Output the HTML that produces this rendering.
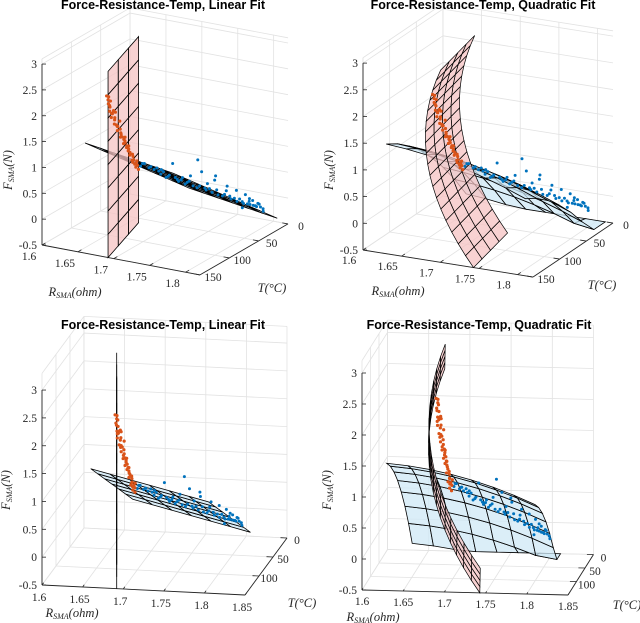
<!DOCTYPE html>
<html><head><meta charset="utf-8">
<style>
html,body{margin:0;padding:0;background:#fff;}
svg{display:block;}
.t{font-family:"Liberation Sans",sans-serif;font-weight:bold;font-size:12.5px;fill:#000;}
.tk{font-family:"Liberation Serif",serif;font-size:11.5px;fill:#262626;}
.al{font-family:"Liberation Serif",serif;font-style:italic;font-size:12.5px;fill:#262626;}
</style></head>
<body>
<svg id="chart" width="640" height="623" viewBox="0 0 640 623" xmlns="http://www.w3.org/2000/svg"></svg>
<script>
// ---- data (shared across all four views) ----
const redR=[1.698,1.700,1.697,1.699,1.696,1.698,1.695,1.697,1.694,1.696,1.693,1.695,1.692,1.694,1.691,1.693,1.690,1.692,1.691,1.693,1.692,1.690,1.694,1.697,1.699,1.701,1.696,1.693,
 1.700,1.702,1.699,1.697,1.695,1.693,1.691,1.689,1.690,1.692,1.694,1.696,1.698,1.700,1.696,1.694,1.692,1.690,1.695,1.697,1.699,1.693];
const redT=[110,112,114,116,118,120,122,124,126,128,130,132,134,136,138,140,142,144,146,148,150,147,141,127,115,111,131,137,
 108,113,117,121,125,129,133,139,145,149,143,135,123,119,126,140,146,150,133,121,113,142];
const redF=[1.00,1.10,1.12,1.25,1.28,1.35,1.45,1.50,1.55,1.65,1.70,1.80,1.85,1.95,2.00,2.10,2.15,2.25,2.30,2.40,2.55,2.45,2.15,1.58,1.18,1.05,1.72,1.98,
 0.95,1.15,1.30,1.42,1.60,1.75,1.92,2.20,2.40,2.60,2.30,2.05,1.40,1.20,1.68,2.25,2.50,2.62,1.88,1.48,1.08,2.28];
const blueR=[1.700,1.703,1.705,1.708,1.711,1.712,1.715,1.718,1.720,1.722,1.725,1.728,1.730,1.733,1.735,1.738,1.740,1.743,1.745,1.748,1.750,1.752,1.755,1.758,1.760,1.762,1.765,1.768,1.770,1.772,1.775,1.778,1.780,1.782,1.785,1.788,1.790,1.792,1.795,1.798,1.800,1.792,1.796,1.788,1.801,1.785,1.745,
 1.704,1.710,1.716,1.724,1.732,1.742,1.754,1.764,1.774,1.784,1.790,1.794,1.797,1.786,1.770,1.756,1.736,1.718,1.760,1.780];
const blueT=[112,108,104,100,101,96,95,92,90,88,86,84,82,80,78,75,74,72,70,67,65,64,60,58,56,54,52,48,47,45,42,40,38,36,33,30,28,26,23,20,18,25,22,27,19,35,62,
 106,99,93,87,81,73,61,53,43,34,29,24,21,31,44,59,77,91,50,39];
const blueF=[1.10,1.02,1.05,0.95,0.98,0.90,0.93,0.80,0.84,0.72,0.76,0.98,0.70,0.62,0.64,0.55,0.58,0.70,0.50,0.45,0.48,0.75,0.38,0.40,0.32,0.55,0.26,0.22,0.25,0.40,0.14,0.15,0.08,0.12,0.02,0.00,-0.02,0.05,-0.08,-0.10,-0.14,-0.05,-0.02,0.03,-0.18,-0.05,0.95,
 1.06,0.97,0.86,0.74,0.66,0.60,0.42,0.36,0.20,0.06,0.10,-0.06,-0.04,0.18,0.30,0.50,0.68,0.88,0.60,0.30];
// fit coefficients
const linBlueCoef=[0.06,-3.38,0.01047];        // F = c0 + c1(R-1.66) + c2 T
const linRedCoef=[1.692,-0.000345];             // R = c0 + c1(150-T)
const quadRedCoef=[1.685,-0.01415,0.01173,-0.0002]; // R = c0 + c1(F-1.2)+c2(F-1.2)^2 + c3(150-T)
const quadBlueCoef=[0.12,-3.38,0.01047,-14,-0.00005]; // + c3(R-1.72)^2 + c4(T-100)^2
const fTicks=[-0.5,0,0.5,1,1.5,2,2.5,3];
const fTickLabels=["-0.5","0","0.5","1","1.5","2","2.5","3"];
const rTicksA=[1.6,1.65,1.7,1.75,1.8];
const rTicksB=[1.6,1.65,1.7,1.75,1.8,1.85];
const tTicksA=[0,50,100,150];
const tTicksB=[0,50,100];

const panels=[
 {id:'tl',title:'Force-Resistance-Temp, Linear Fit',tx:163,ty:9,p0:[42,245],vR:[718,136],vT:[0.587,-0.34],vF:[0,-51.7],Rmax:1.82,Fmax:3.1,rt:rTicksA,tt:tTicksA,ro:[-13,15],to:[13,6],fl:[12,170],rl:[75,296],tl:[272,292],fit:'lin'},
 {id:'tr',title:'Force-Resistance-Temp, Quadratic Fit',tx:483,ty:9,p0:[363,250],vR:[773,123],vT:[0.533,-0.36],vF:[0,-53.4],Rmax:1.82,Fmax:3.1,rt:rTicksA,tt:tTicksA,ro:[-14,14],to:[13,6],fl:[333,170],rl:[398,295],tl:[602,289],fit:'quad'},
 {id:'bl',title:'Force-Resistance-Temp, Linear Fit',tx:163,ty:329,p0:[42,585],vR:[812,40],vT:[0.28,-0.38],vF:[0,-55.7],Rmax:1.85,Fmax:3.3,rt:rTicksB,tt:tTicksB,ro:[-3,16],to:[10,6],fl:[10,490],rl:[72,617],tl:[302,607],fit:'lin'},
 {id:'br',title:'Force-Resistance-Temp, Quadratic Fit',tx:479,ty:329,p0:[362,590],vR:[824,20],vT:[0.17,-0.27],vF:[0,-62],Rmax:1.85,Fmax:3.2,rt:rTicksB,tt:tTicksB,ro:[0,15],to:[10,7],fl:[331,490],rl:[373,621],tl:[627,609],fit:'quad'}
];
const NS='http://www.w3.org/2000/svg';
const svg=document.getElementById('chart');
function mk(tag,attrs,parent){const e=document.createElementNS(NS,tag);for(const k in attrs)e.setAttribute(k,attrs[k]);(parent||svg).appendChild(e);return e;}
const TMAX=150;
panels.forEach(p=>{
  const P=(R,T,F)=>[p.p0[0]+p.vR[0]*(R-1.6)+p.vT[0]*(TMAX-T)+p.vF[0]*(F+0.5),
                    p.p0[1]+p.vR[1]*(R-1.6)+p.vT[1]*(TMAX-T)+p.vF[1]*(F+0.5)];
  const g=mk('g',{});
  
  
  const line=(a,b,st,w,par)=>mk('line',{x1:a[0],y1:a[1],x2:b[0],y2:b[1],stroke:st,'stroke-width':w},par||g);
  const gg=mk('g',{},g);
  
  
  const gc='#e2e2e2';
  p.rt.forEach(r=>{line(P(r,0,-0.5),P(r,0,p.Fmax),gc,0.8,gg);line(P(r,0,-0.5),P(r,TMAX,-0.5),gc,0.8,gg);});
  p.tt.concat([TMAX]).forEach(t=>{line(P(1.6,t,-0.5),P(1.6,t,p.Fmax),gc,0.8,gg);line(P(1.6,t,-0.5),P(p.Rmax,t,-0.5),gc,0.8,gg);});
  fTicks.concat([p.Fmax]).forEach(f=>{line(P(1.6,0,f),P(p.Rmax,0,f),gc,0.8,gg);line(P(1.6,0,f),P(1.6,TMAX,f),gc,0.8,gg);});
  const ax='#262626';
  const fa=mk('g',{},g);
  line(P(1.6,TMAX,-0.5),P(1.6,TMAX,3),ax,0.9,fa);
  fTicks.forEach((f,i)=>{const q=P(1.6,TMAX,f);line(q,[q[0]+4,q[1]],ax,0.8,fa);
    const t=mk('text',{x:q[0]-5,y:q[1]+4,'text-anchor':'end',class:'tk'},fa);t.textContent=fTickLabels[i];});
  const ra=mk('g',{},g);
  line(P(1.6,TMAX,-0.5),P(p.Rmax,TMAX,-0.5),ax,0.9,ra);
  p.rt.forEach(r=>{const q=P(r,TMAX,-0.5);const q2=P(r,TMAX-6,-0.5);line(q,q2,ax,0.8,ra);
    const t=mk('text',{x:q[0]+p.ro[0],y:q[1]+p.ro[1],'text-anchor':'middle',class:'tk'},ra);t.textContent=String(r);});
  const ta=mk('g',{},g);
  line(P(p.Rmax,TMAX,-0.5),P(p.Rmax,0,-0.5),ax,0.9,ta);
  p.tt.forEach(tv=>{const q=P(p.Rmax,tv,-0.5);const q2=P(p.Rmax-0.008,tv,-0.5);line(q,q2,ax,0.8,ta);
    const t=mk('text',{x:q[0]+p.to[0],y:q[1]+p.to[1],'text-anchor':'middle',class:'tk'},ta);t.textContent=String(tv);});
  const fl=mk('text',{x:p.fl[0],y:p.fl[1],class:'al','text-anchor':'middle',transform:`rotate(-90 ${p.fl[0]} ${p.fl[1]})`},g);
  
  fl.innerHTML='F<tspan font-size="8" dy="2">SMA</tspan><tspan dy="-2">(N)</tspan>';
  const rl=mk('text',{x:p.rl[0],y:p.rl[1],class:'al','text-anchor':'middle'},g);
  
  rl.innerHTML='R<tspan font-size="8" dy="2">SMA</tspan><tspan dy="-2">(ohm)</tspan>';
  const tl=mk('text',{x:p.tl[0],y:p.tl[1],class:'al','text-anchor':'middle'},g);
  
  tl.textContent='T(°C)';
  const ti=mk('text',{x:p.tx,y:p.ty,class:'t','text-anchor':'middle'},g);
  
  ti.textContent=p.title;
  function surf(fn,u0,u1,v0,v1,nu,nv,fill,name,sw){
    const sg=mk('g',{},g);
    
    
    for(let i=0;i<nu;i++)for(let j=0;j<nv;j++){
      const a=u0+(u1-u0)*i/nu,b=u0+(u1-u0)*(i+1)/nu,c=v0+(v1-v0)*j/nv,d=v0+(v1-v0)*(j+1)/nv;
      const pts=[fn(a,c),fn(b,c),fn(b,d),fn(a,d)].map(q=>q.join(',')).join(' ');
      mk('polygon',{points:pts,fill:fill,'fill-opacity':0.75,stroke:'#000','stroke-width':sw},sg);
    }
  }
  const clampF=f=>Math.max(-0.5,Math.min(p.Fmax+0.1,f));
  if(p.fit==='lin'){
    const c=linBlueCoef;
    surf((R,T)=>P(R,T,c[0]+c[1]*(R-1.66)+c[2]*T),1.66,1.805,0,150,6,6,'#cfe8f5','blue-linear-fit',0.8);
    const k=linRedCoef;
    surf((F,T)=>P(k[0]+k[1]*(150-T),T,F),-0.5,3.1,60,150,8,3,'#f6c3c3','red-linear-fit',0.8);
  } else {
    const c=quadBlueCoef;
    surf((R,T)=>P(R,T,clampF(c[0]+c[1]*(R-1.66)+c[2]*T+c[3]*(R-1.72)**2+c[4]*(T-100)**2)),1.63,1.81,0,150,7,7,'#cfe8f5','blue-quadratic-fit',0.8);
    const k=quadRedCoef;
    surf((F,T)=>P(k[0]+k[1]*(F-1.2)+k[2]*(F-1.2)**2+k[3]*(150-T),T,F),-0.5,3.1,60,150,18,4,'#f6c3c3','red-quadratic-fit',0.7);
  }
  const sb=mk('g',{},g);
  blueR.forEach((r,i)=>{const q=P(r,blueT[i],blueF[i]);mk('circle',{cx:q[0],cy:q[1],r:1.5,fill:'#0072bd'},sb);});
  const sr=mk('g',{},g);
  redR.forEach((r,i)=>{const q=P(r,redT[i],redF[i]);mk('circle',{cx:q[0],cy:q[1],r:1.6,fill:'#d95319'},sr);});
});
</script>
</body></html>
